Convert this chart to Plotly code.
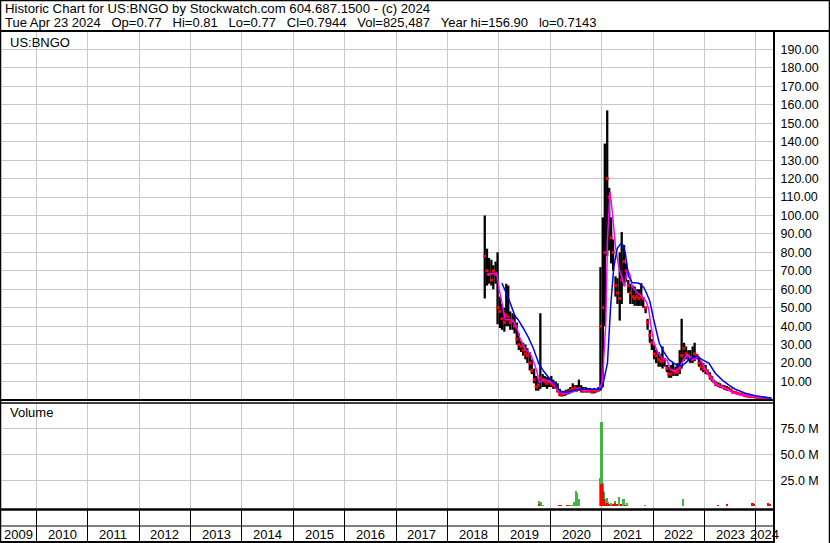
import plotly.graph_objects as go
import pandas as pd

W, H = 830, 543

# ---------------- data ----------------
# semi-monthly price bars, Sep 2018 .. Apr 2024
bar_high = [
    100, 82, 77, 76, 73, 75, 80,
    56, 52, 50, 63, 62, 48, 47, 46, 42, 36, 32, 31, 30, 28, 26, 22, 17, 13, 12, 47, 14, 13, 12.5, 12,
    13, 11, 10, 9, 6, 5, 5, 5.5, 6, 7, 9, 8, 8, 11, 8, 7, 7, 6.5, 6.5, 6, 6.5, 6, 7, 72,
    99, 139, 157, 115, 99, 87, 67, 66, 80, 91, 84, 74, 65, 63, 62, 61.5, 60, 60, 63.3, 55, 50, 44, 38,
    33, 30, 27, 26, 25, 29, 22, 19, 18, 19, 20, 18, 20, 27, 44, 31, 29, 27, 27, 29, 31, 25, 23, 21,
    20, 19, 16.5, 15, 13, 11, 10, 9.5, 9, 8.2, 8, 7.5, 7, 5.5, 5, 4.5, 4, 3.6, 3.2, 3, 2.8, 2.5, 2.2, 2.2,
    1.8, 1.6, 1.5, 1.3, 1.2, 1.1, 1.0, 0.85,
]
bar_low = [
    55, 62, 63, 62, 60, 63, 41,
    39, 38, 37, 40, 40, 38, 38, 36, 30, 27, 26, 24, 22, 20, 16, 14, 9, 5, 5, 6, 7, 7, 6, 7,
    7, 6, 6, 4, 2, 1.8, 2, 2.5, 3, 3.5, 4, 4.5, 4.5, 5, 4, 4, 4, 4, 4, 3.5, 3.5, 4, 4.5, 5,
    7, 40, 78, 81, 74, 70, 56, 52, 43, 52, 62, 64, 58, 52, 52, 51, 51, 51, 51, 50, 47, 38, 31, 27,
    22, 20, 18, 18, 17, 18, 15, 12, 12, 13, 13, 13, 14, 17, 21, 22, 21, 20, 20, 21, 22, 18, 16, 15,
    14, 13.6, 11, 10, 9, 7.5, 7, 6.5, 6.4, 5.5, 5, 5, 4.5, 3.5, 3.2, 3, 2.7, 2.5, 2, 1.8, 1.6, 1.5, 1.5, 1.4,
    1.1, 1.0, 0.9, 0.8, 0.8, 0.75, 0.71, 0.71,
]
bar_close = [
    78, 70, 68, 65, 70, 68, 50,
    48, 44, 42, 46, 45, 42, 43, 40, 33, 30, 29, 27, 25, 24, 20, 16, 11, 7, 8, 12, 11, 10, 9, 10,
    9, 8, 7, 5, 3, 3, 3.5, 4, 4.5, 5, 6, 6.5, 6, 6, 5.5, 5, 5, 5, 5, 4.5, 5, 5, 5.5, 40,
    50, 80, 120, 110, 88, 80, 62, 58, 55, 65, 75, 70, 62, 58, 56, 55, 56, 55, 56, 55, 50, 42, 35, 31,
    25, 24, 22, 21, 21, 22, 17, 14, 14, 16, 15, 15, 17, 24, 28, 25, 24, 23, 22, 25, 24, 20, 18, 17,
    16, 15, 13, 12, 10, 8.5, 8, 7.5, 7, 6.5, 6, 6, 5.5, 4, 4, 3.5, 3.2, 3, 2.5, 2.2, 2, 1.8, 1.8, 1.6,
    1.4, 1.2, 1.1, 1.0, 0.9, 0.85, 0.8, 0.79,
]
bar_dates = pd.date_range("2018-09-15", periods=len(bar_high), freq="SMS") + pd.Timedelta(days=7)

# short moving average (magenta)
ma_fast_dates = [
    "2018-10-05", "2018-11-15", "2018-12-16", "2019-01-01", "2019-01-22", "2019-02-15", "2019-03-20",
    "2019-04-13", "2019-05-05", "2019-05-30", "2019-07-05", "2019-08-10", "2019-09-03", "2019-09-27",
    "2019-10-15", "2019-11-17", "2020-01-02", "2020-02-07", "2020-03-01", "2020-04-06", "2020-05-12",
    "2020-06-30", "2020-07-23", "2020-08-28", "2020-10-13", "2020-12-12", "2021-01-05", "2021-01-17",
    "2021-01-29", "2021-02-10", "2021-02-28", "2021-03-15", "2021-03-27", "2021-04-08", "2021-05-01",
    "2021-05-25", "2021-06-11", "2021-07-01", "2021-07-19", "2021-08-05", "2021-09-10", "2021-10-16",
    "2021-11-14", "2021-12-01", "2021-12-14", "2022-01-07", "2022-02-01", "2022-03-05", "2022-04-10",
    "2022-05-03", "2022-06-08", "2022-07-13", "2022-08-05", "2022-08-30", "2022-09-22", "2022-10-15",
    "2022-11-20", "2022-12-15", "2023-01-07", "2023-02-12", "2023-03-31", "2023-05-29", "2023-07-27",
    "2023-09-25", "2023-12-05", "2024-02-15", "2024-04-20",
]
ma_fast_vals = [
    68, 68.5, 68.8, 60.6, 51.6, 43.5, 43.5,
    42.6, 39.9, 33.6, 27.3, 25.5, 20.9, 15.5,
    9.5, 11, 10, 8.2, 4.5, 3.3, 4,
    5, 6.4, 5, 5.5, 5.5, 10, 27,
    41.8, 86.8, 113, 103, 92, 83, 72,
    65, 61.5, 70.5, 68, 61.5, 58, 56,
    53, 49, 41, 30.5, 26, 22.5, 21.5,
    16.4, 15.5, 18.2, 21.8, 24.5, 22.7, 21.8,
    23.6, 20, 16.4, 11.8, 8.2, 6.4, 3.6,
    2.7, 1.8, 1.3, 0.9,
]

# long moving average (blue)
ma_slow_dates = [
    "2019-01-22", "2019-03-10", "2019-04-25", "2019-05-17", "2019-06-22", "2019-07-28", "2019-09-02",
    "2019-09-27", "2019-10-12", "2019-11-15", "2020-01-02", "2020-02-07", "2020-03-12", "2020-04-17",
    "2020-06-05", "2020-07-23", "2020-10-25", "2020-12-24", "2021-01-05", "2021-01-17", "2021-02-10",
    "2021-03-04", "2021-03-27", "2021-04-20", "2021-05-13", "2021-06-01", "2021-06-17", "2021-07-10",
    "2021-08-04", "2021-09-21", "2021-10-26", "2021-11-14", "2021-12-08", "2022-01-03", "2022-01-24",
    "2022-02-12", "2022-03-17", "2022-04-22", "2022-05-28", "2022-06-20", "2022-07-26", "2022-08-30",
    "2022-10-04", "2022-11-08", "2022-12-15", "2023-01-31", "2023-03-18", "2023-05-05", "2023-06-20",
    "2023-08-07", "2023-10-17", "2023-12-28", "2024-03-08", "2024-04-20",
]
ma_slow_vals = [
    63.4, 55, 45.5, 43.5, 39, 34, 28,
    22.5, 19.5, 15.5, 10.9, 8.2, 4.5, 4,
    5, 5.8, 5.8, 5.8, 7, 11, 20,
    50.6, 72, 82, 84.6, 84, 79.5, 67,
    63.6, 63.3, 61, 58, 53.5, 44, 36.4,
    31, 26, 21.8, 20, 18.5, 18.5, 20.9,
    22.7, 23.6, 21.8, 20, 14.5, 10.9, 8.2,
    5.8, 3.6, 2.2, 1.5, 0.9,
]

# volume, millions of shares (green = up, red = down)
vol_dates = [
    "2019-10-10", "2019-10-24", "2019-11-10",
    "2020-03-01", "2020-03-16", "2020-04-01", "2020-04-16", "2020-05-01", "2020-05-16", "2020-06-01",
    "2020-06-16", "2020-07-01", "2020-07-10", "2020-07-20", "2020-08-01", "2020-08-16", "2020-09-01",
    "2020-09-16", "2020-10-16", "2020-11-01", "2020-11-16", "2020-12-01", "2020-12-20", "2020-12-30",
    "2021-01-08", "2021-01-18", "2021-01-27", "2021-02-05", "2021-02-14", "2021-02-23", "2021-03-05",
    "2021-03-20", "2021-04-06", "2021-04-18", "2021-05-02", "2021-05-18", "2021-06-03", "2021-06-17",
    "2021-07-01", "2021-07-16", "2021-08-01", "2021-08-16", "2021-09-01", "2021-09-16", "2021-10-01",
    "2021-10-16", "2021-11-01", "2021-11-16", "2021-12-01", "2021-12-16",
    "2022-01-01", "2022-01-16", "2022-02-01", "2022-02-16", "2022-03-01", "2022-04-16", "2022-05-01",
    "2022-06-01", "2022-06-16", "2022-08-01", "2022-08-16", "2022-09-01", "2022-09-25", "2022-10-16",
    "2022-11-01", "2022-11-16", "2022-12-01", "2022-12-16", "2023-01-01", "2023-01-16", "2023-02-01",
    "2023-02-16", "2023-03-01", "2023-03-16", "2023-04-05", "2023-04-20", "2023-05-05", "2023-05-20",
    "2023-06-10", "2023-06-24", "2023-07-10", "2023-08-05", "2023-08-18", "2023-09-01", "2023-09-16",
    "2023-10-01", "2023-10-25", "2023-11-10", "2023-11-24", "2023-12-08", "2023-12-20", "2024-01-05",
    "2024-01-20", "2024-02-05", "2024-02-20", "2024-03-08", "2024-03-25", "2024-04-08", "2024-04-20",
]
vol_up = [
    5.6, 4.5, 1.8,
    0, 0, 0.5, 0.4, 0, 1.0, 1.0,
    4.5, 15, 13, 7, 0.6, 0.5, 0.4,
    0.3, 0.4, 0.6, 0.6, 0.6, 27, 81,
    22.6, 14, 7, 8, 4.5, 0.8, 3.4,
    0.6, 5.6, 0.5, 9, 0.5, 7.3, 0.3,
    3.7, 0.2, 0.3, 0.3, 0.3, 0.3, 0.3,
    0.2, 1.8, 0, 0.2, 0.2,
    0.3, 0.3, 0.2, 0.3, 0.3, 0.3, 0.2,
    0.3, 0.2, 7.0, 0.3, 0.2, 0.8, 0.3,
    0.5, 0.2, 0.2, 0.2, 0.2, 0.2, 0.2,
    0.2, 0.2, 0.2, 0.3, 0.3, 0.3, 0.3,
    0.3, 0.3, 0.5, 0.3, 0.5, 0.3, 0.3,
    0.3, 0.8, 0.8, 0.8, 1.4, 1.4, 0.5,
    0.5, 0.5, 0.5, 0.5, 0.5, 0.3, 0.3,
]
vol_down = [
    2.5, 0, 0,
    1.4, 1.4, 0.6, 0.5, 1.2, 0.4, 0.5,
    0, 0.5, 0, 0.4, 0.8, 0.8, 0.6,
    0.5, 0, 0, 0, 0, 0, 22,
    15, 7, 2, 3.4, 1, 2.2, 0.5,
    2.2, 3.0, 2.5, 0.5, 2.3, 0.5, 1.5,
    0.4, 0.8, 0.3, 0.3, 0.3, 0.3, 0.3,
    0.3, 0, 0.5, 0.5, 0.4,
    0.3, 0.3, 0.3, 0.2, 0, 0.2, 0.3,
    0, 0.2, 0.3, 0.3, 0, 0, 0,
    0, 0.2, 0.2, 0.2, 0.2, 0.2, 0.2,
    0.2, 0.2, 0.2, 1.8, 0.3, 0.3, 0.3,
    2.5, 0.5, 0.3, 0.8, 0.3, 0.3, 0.3,
    0.3, 0.3, 0.3, 0.5, 3.7, 2.3, 0.8,
    0.8, 0.8, 0.8, 0.8, 3.7, 2.3, 0.8,
]

price_ticks = list(range(10, 200, 10))
vol_ticks = [25, 50, 75]
years = list(range(2009, 2025))

header_line1 = "Historic Chart for US:BNGO by Stockwatch.com 604.687.1500 - (c) 2024"
header_fields = ["Tue Apr 23 2024", "Op=0.77", "Hi=0.81", "Lo=0.77", "Cl=0.7944",
                 "Vol=825,487", "Year hi=156.90", "lo=0.7143"]

# ---------------- layout helpers (pixels -> paper) ----------------
def px(x):
    return x / W

def py(y):
    return 1 - y / H

X_START, X_END = "2009-04-18", "2024-05-08"
AXIS_PX = 774
FONT = "Liberation Sans, Arial, sans-serif"
GRID = "#c8c8c8"
GAP = "\u00a0\u00a0\u00a0"

fig = go.Figure()

# high-low bars
bx, by = [], []
for d, lo, hi in zip(bar_dates, bar_low, bar_high):
    bx += [d, d, None]
    by += [lo, hi, None]
fig.add_trace(go.Scatter(x=bx, y=by, mode="lines", line=dict(color="black", width=2.3),
                         hoverinfo="skip", showlegend=False, xaxis="x", yaxis="y"))
fig.add_trace(go.Scatter(x=bar_dates, y=bar_close, mode="markers",
                         marker=dict(symbol="square", size=3, color="#ff0000", line=dict(width=0)),
                         showlegend=False, xaxis="x", yaxis="y"))
fig.add_trace(go.Scatter(x=ma_fast_dates, y=ma_fast_vals, mode="lines",
                         line=dict(color="#ff00ff", width=1.5), showlegend=False, xaxis="x", yaxis="y"))
fig.add_trace(go.Scatter(x=ma_slow_dates, y=ma_slow_vals, mode="lines",
                         line=dict(color="#0000ff", width=1.5), showlegend=False, xaxis="x", yaxis="y"))

# volume
bar_w = 16 * 86400000
fig.add_trace(go.Bar(x=vol_dates, y=vol_up, width=bar_w, marker=dict(color="#44b544", line=dict(width=0)),
                     showlegend=False, xaxis="x2", yaxis="y2"))
fig.add_trace(go.Bar(x=vol_dates, y=vol_down, width=bar_w, marker=dict(color="#ff0000", line=dict(width=0)),
                     showlegend=False, xaxis="x2", yaxis="y2"))
# empty trace for the year band
fig.add_trace(go.Scatter(x=[X_START], y=[-1], mode="markers", marker=dict(opacity=0),
                         showlegend=False, hoverinfo="skip", xaxis="x3", yaxis="y3"))

xcommon = dict(type="date", range=[X_START, X_END], domain=[0, px(AXIS_PX)],
               showgrid=True, gridcolor=GRID, gridwidth=1, tick0="2010-01-01", dtick="M12",
               showticklabels=False, ticks="", zeroline=False, showline=False, fixedrange=True)

fig.update_layout(
    width=W, height=H, margin=dict(l=0, r=0, t=0, b=0),
    paper_bgcolor="white", plot_bgcolor="white",
    font=dict(family=FONT, size=13, color="black"),
    barmode="overlay", bargap=0,
    xaxis=dict(**xcommon, anchor="y"),
    xaxis2=dict(**xcommon, anchor="y2", matches="x"),
    xaxis3=dict(**{**xcommon, "gridcolor": "black"}, anchor="y3", matches="x"),
    yaxis=dict(domain=[py(400), py(32)], range=[-0.05, 199.5], side="right", anchor="x",
               tickvals=price_ticks, ticktext=[f"{v:.2f}" for v in price_ticks],
               showgrid=True, gridcolor=GRID, zeroline=False, showline=False,
               ticks="outside", ticklen=3, tickcolor="rgba(0,0,0,0)",
               tickfont=dict(family=FONT, size=12.5, color="black"), fixedrange=True),
    yaxis2=dict(domain=[py(509), py(403)], range=[-2.4, 99.1], side="right", anchor="x2",
                tickvals=vol_ticks, ticktext=[f"{v:.1f} M" for v in vol_ticks],
                showgrid=True, gridcolor=GRID, zeroline=False, showline=False,
                ticks="outside", ticklen=3, tickcolor="rgba(0,0,0,0)",
                tickfont=dict(family=FONT, size=12.5, color="black"), fixedrange=True),
    yaxis3=dict(domain=[py(542), py(510)], range=[0, 1], anchor="x3", showgrid=False,
                showticklabels=False, ticks="", zeroline=False, showline=False, fixedrange=True),
)

# year labels in the bottom band (centred in each visible year cell)
x0 = pd.Timestamp(X_START)
x1 = pd.Timestamp(X_END)
for yr in years:
    a = max(pd.Timestamp(f"{yr}-01-01"), x0)
    b = min(pd.Timestamp(f"{yr + 1}-01-01"), x1)
    mid = a + (b - a) / 2
    fig.add_annotation(x=mid, y=py(534), xref="x3", yref="paper", text=str(yr), showarrow=False,
                       xanchor="center", yanchor="middle", font=dict(size=13))

# header texts
fig.add_annotation(x=px(3), y=py(8.5), xref="paper", yref="paper", text=header_line1,
                   showarrow=False, xanchor="left", yanchor="middle", font=dict(size=13.2))
fig.add_annotation(x=px(3), y=py(22), xref="paper", yref="paper", text=GAP.join(header_fields),
                   showarrow=False, xanchor="left", yanchor="middle", font=dict(size=13))
fig.add_annotation(x=px(8), y=py(42), xref="paper", yref="paper", text="US:BNGO",
                   showarrow=False, xanchor="left", yanchor="middle", font=dict(size=13))
fig.add_annotation(x=px(8), y=py(413), xref="paper", yref="paper", text="Volume",
                   showarrow=False, xanchor="left", yanchor="middle", font=dict(size=13))

# frame lines
def hline(y, x_a, x_b, w):
    fig.add_shape(type="line", xref="paper", yref="paper", x0=px(x_a), x1=px(x_b), y0=py(y), y1=py(y),
                  line=dict(color="black", width=w))

def vline(x, y_a, y_b, w):
    fig.add_shape(type="line", xref="paper", yref="paper", x0=px(x), x1=px(x), y0=py(y_a), y1=py(y_b),
                  line=dict(color="black", width=w))

hline(0.5, 0, W, 1.5)
hline(31, 0, W, 2)
hline(400, 0, AXIS_PX, 2)
hline(403, 0, AXIS_PX, 1.5)
hline(509.5, 0, AXIS_PX, 2.5)
hline(526, 0, AXIS_PX, 1)
hline(542, 0, AXIS_PX, 2)
vline(0.5, 0, H, 1.5)
vline(W - 0.5, 0, H, 1.5)
vline(AXIS_PX, 31, H, 2)

fig.write_html("out.html", include_plotlyjs=True,
               config={"displayModeBar": False, "staticPlot": True},
               post_script="document.body.style.margin='0';document.body.style.overflow='hidden';")
